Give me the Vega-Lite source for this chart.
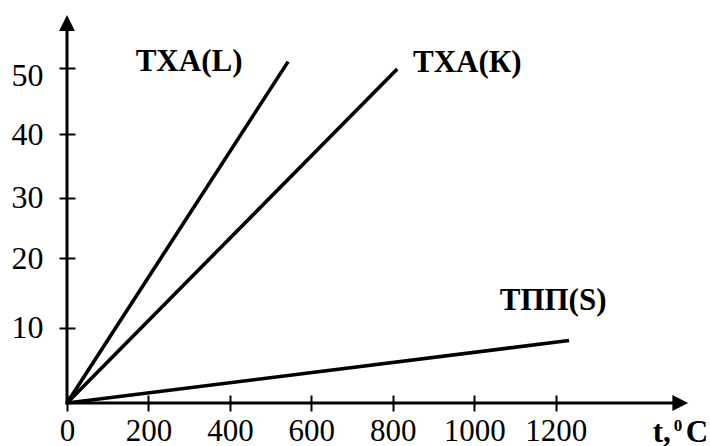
{
  "$schema": "https://vega.github.io/schema/vega-lite/v6.json",
  "width": 621,
  "height": 388,
  "autosize": {"type": "none"},
  "padding": {"left": 67, "top": 15, "right": 22, "bottom": 43},
  "background": "white",
  "config": {"view": {"stroke": null}},
  "datasets": {
    "lines": [
      {"series": "L", "t": 0, "e": 0},
      {"series": "L", "t": 543, "e": 51},
      {"series": "K", "t": 0, "e": 0},
      {"series": "K", "t": 811, "e": 49.9},
      {"series": "S", "t": 0, "e": 0},
      {"series": "S", "t": 1233, "e": 8.3}
    ],
    "axislines": [
      {"t": 0, "e": 0, "t2": 1506, "e2": 0},
      {"t": 0, "e": 0, "t2": 0, "e2": 56.8}
    ],
    "arrows": [
      {"dir": "up", "t": 0, "e": 56.8},
      {"dir": "right", "t": 1506, "e": 0}
    ],
    "labels": [
      {"t": 168.7, "e": 49.64, "text": "ТХА(L)"},
      {"t": 849.7, "e": 49.48, "text": "ТХА(К)"},
      {"t": 1062.6, "e": 12.48, "text": "ТПП(S)"},
      {"t": 1438.3, "e": -5.18, "text": "t,"},
      {"t": 1519.4, "e": -5.18, "text": "C"}
    ],
    "sup": [
      {"t": 1490, "e": -3.68, "text": "0"}
    ]
  },
  "encoding": {
    "x": {
      "field": "t", "type": "quantitative",
      "scale": {"domain": [0, 1525], "nice": false, "zero": false},
      "axis": {
        "values": [0, 200, 400, 600, 800, 1000, 1200], "format": "d", "title": null,
        "grid": false, "domain": false, "offset": -8, "tickSize": 16, "tickWidth": 2, "tickColor": "black",
        "labelFont": "Liberation Serif", "labelFontSize": 31, "labelColor": "black",
        "labelPadding": 5, "labelBaseline": "top", "labelFlush": false, "labelOverlap": false
      }
    },
    "y": {
      "field": "e", "type": "quantitative",
      "scale": {"domain": [0, 10, 20, 30, 40, 50, 58], "range": [388, 312.7, 243.3, 182.7, 119.3, 53.3, 0], "nice": false, "zero": false},
      "axis": {
        "values": [10, 20, 30, 40, 50], "format": "d", "title": null,
        "grid": false, "domain": false, "offset": -8, "tickSize": 16, "tickWidth": 2, "tickColor": "black",
        "labelFont": "Liberation Serif", "labelFontSize": 32, "labelColor": "black",
        "labelPadding": 16, "labelOverlap": false, "labelFlush": false,
        "labelOffset": {"condition": {"test": "datum.value == 50", "value": 7}, "value": 0}
      }
    }
  },
  "layer": [
    {
      "data": {"name": "lines"},
      "mark": {"type": "line", "color": "black", "strokeWidth": 3.6, "strokeCap": "butt"},
      "encoding": {
        "detail": {"field": "series"}
      }
    },
    {
      "data": {"name": "axislines"},
      "mark": {"type": "rule", "color": "black", "strokeWidth": 3, "strokeCap": "square"},
      "encoding": {
        "x2": {"field": "t2"},
        "y2": {"field": "e2"}
      }
    },
    {
      "data": {"name": "arrows"},
      "mark": {"type": "point", "filled": true, "color": "black", "opacity": 1, "size": 250, "strokeWidth": 0},
      "encoding": {
        "shape": {
          "field": "dir", "type": "nominal", "legend": null,
          "scale": {"domain": ["up", "right"], "range": ["M-1,1L1,1L0,-1Z", "M-1,-1L1,0L-1,1Z"]}
        }
      }
    },
    {
      "data": {"name": "labels"},
      "mark": {"type": "text", "font": "Liberation Serif", "fontSize": 31, "fontWeight": "bold", "color": "black", "align": "left", "baseline": "alphabetic"},
      "encoding": {
        "text": {"field": "text"}
      }
    },
    {
      "data": {"name": "sup"},
      "mark": {"type": "text", "font": "Liberation Serif", "fontSize": 17, "fontWeight": "bold", "color": "black", "align": "left", "baseline": "alphabetic"},
      "encoding": {
        "text": {"field": "text"}
      }
    }
  ]
}
